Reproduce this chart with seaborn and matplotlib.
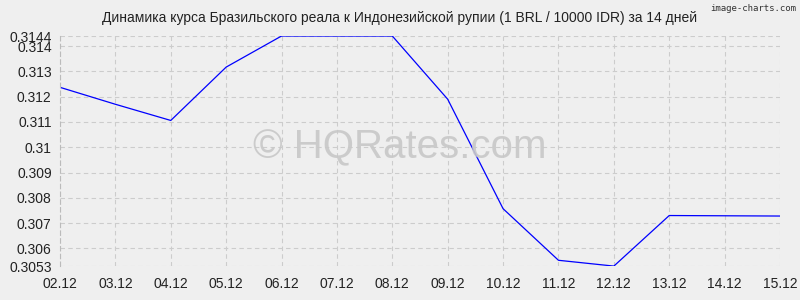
import matplotlib
matplotlib.use("Agg")
import matplotlib.pyplot as plt
import seaborn as sns
import pandas as pd

dates = ["02.12", "03.12", "04.12", "05.12", "06.12", "07.12", "08.12",
         "09.12", "10.12", "11.12", "12.12", "13.12", "14.12", "15.12"]
rates = [0.31237, 0.31170, 0.31106, 0.31317, 0.3144, 0.3144, 0.3144,
         0.3119, 0.30757, 0.30553, 0.3053, 0.30730, 0.30729, 0.30728]
yticks = [0.3053, 0.306, 0.307, 0.308, 0.309, 0.31, 0.311, 0.312, 0.313, 0.314, 0.3144]
ytick_labels = ["0.3053", "0.306", "0.307", "0.308", "0.309", "0.31", "0.311", "0.312", "0.313", "0.314", "0.3144"]
title = "Динамика курса Бразильского реала к Индонезийской рупии (1 BRL / 10000 IDR) за 14 дней"

sns.set_theme(style="whitegrid")
plt.rcParams['font.family'] = ['Liberation Sans', 'DejaVu Sans']

df = pd.DataFrame({"x": range(len(dates)), "rate": rates})

fig = plt.figure(figsize=(8, 3), dpi=100, facecolor="#efefef")
ax = fig.add_axes([0.075, 0.113, 0.9, 0.767])
ax.set_facecolor("#efefef")
sns.lineplot(data=df, x="x", y="rate", ax=ax, color="#0000ff", linewidth=0.9)

ax.set_xlim(0, len(dates) - 1)
ax.set_ylim(0.3053, 0.3144)
ax.set_xticks(range(len(dates)))
ax.set_xticklabels(dates)
ax.set_yticks(yticks)
ax.set_yticklabels(ytick_labels)
ax.set_xlabel("")
ax.set_ylabel("")
ax.grid(True, color="#cccccc", linestyle=(0, (4, 3)), linewidth=0.8)
for s in ["top", "right", "bottom"]:
    ax.spines[s].set_visible(False)
ax.spines["left"].set_visible(True)
ax.spines["left"].set_color("#bbbbbb")
ax.spines["left"].set_linestyle((0, (4, 3)))
ax.spines["left"].set_linewidth(0.8)
ax.tick_params(axis="both", labelsize=10, colors="#222222", length=4, width=0.6,
               color="#888888", pad=2, direction="out")
ax.tick_params(axis="x", pad=4)

fig.text(0.5, 0.94, title, ha="center", va="center", fontsize=10, color="#222222")
fig.text(0.995, 0.973, "image-charts.com", ha="right", va="center", fontsize=6.5,
         color="#333333", family=["DejaVu Sans Mono", "DejaVu Sans"])
fig.text(0.5, 0.51, "© HQRates.com", ha="center", va="center",
         fontsize=29, color="#c8c8c8", alpha=0.9, zorder=0)

fig.savefig("out.png", dpi=100, facecolor=fig.get_facecolor())
